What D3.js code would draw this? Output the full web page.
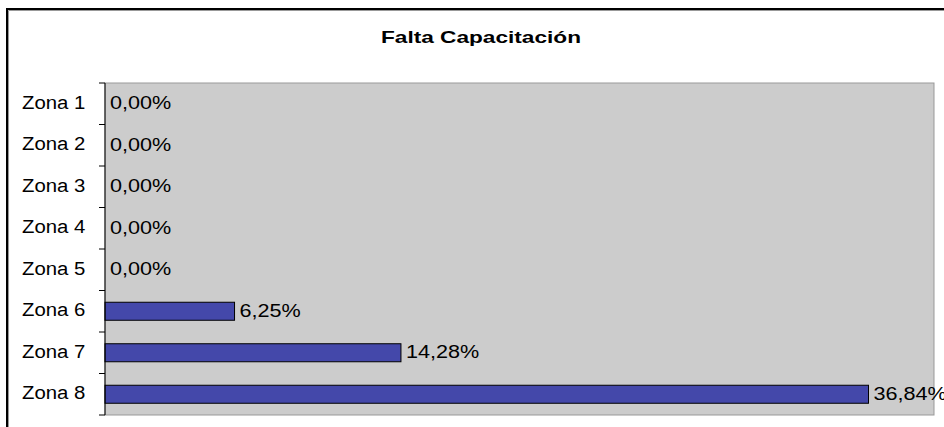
<!DOCTYPE html>
<html>
<head>
<meta charset="utf-8">
<script src="https://cdn.jsdelivr.net/npm/d3@7"></script>
<style>
  body { margin: 0; background: #fff; }
  text { font-family: 'Liberation Sans', Arial, sans-serif; fill: #000; }
</style>
</head>
<body>
<div id="chart"></div>
<script>
var title = 'Falta Capacitación'
var zonas = ['Zona 1', 'Zona 2', 'Zona 3', 'Zona 4', 'Zona 5', 'Zona 6', 'Zona 7', 'Zona 8']
var valores = [0, 0, 0, 0, 0, 6.25, 14.28, 36.84]
var xMax = 40

var width = 944
var height = 427
var plot = { left: 105, top: 83, right: 934, bottom: 415 }

var svg = d3.select('#chart')
  .append('svg')
  .attr('width', width)
  .attr('height', height)

// chart frame
svg.append('rect')
  .attr('x', 7).attr('y', 9)
  .attr('width', 960).attr('height', 440)
  .attr('fill', '#fff')
  .attr('stroke', '#000')
  .attr('stroke-width', 2)
svg.append('path')
  .attr('d', 'M8.5,460 V10.5 H960')
  .attr('fill', 'none')
  .attr('stroke', '#999')
  .attr('stroke-width', 1)

var x = d3.scaleLinear()
  .domain([0, xMax])
  .range([plot.left, plot.right])

var y = d3.scaleBand()
  .domain(zonas)
  .range([plot.top, plot.bottom])
  .paddingInner(0.566)
  .paddingOuter(0.283)

var yTicks = d3.scaleLinear()
  .domain([0, zonas.length])
  .range([plot.top, plot.bottom])

// plot area
svg.append('rect')
  .attr('x', plot.left)
  .attr('y', plot.top)
  .attr('width', plot.right - plot.left)
  .attr('height', plot.bottom - plot.top)
  .attr('fill', '#cccccc')
  .attr('stroke', '#999')
  .attr('stroke-width', 1)

// title
svg.append('text')
  .attr('x', 481)
  .attr('y', 43)
  .attr('text-anchor', 'middle')
  .attr('font-size', 17)
  .attr('font-weight', 'bold')
  .attr('textLength', 200)
  .attr('lengthAdjust', 'spacingAndGlyphs')
  .text(title)

// bars
svg.selectAll('.bar')
  .data(valores.filter(function (d) { return d > 0 }))
  .enter()
  .append('rect')
  .attr('class', 'bar')
  .attr('x', x(0))
  .attr('y', function (d) { return y(zonas[valores.indexOf(d)]) })
  .attr('width', function (d) { return x(d) - x(0) })
  .attr('height', y.bandwidth())
  .attr('fill', '#4448aa')
  .attr('stroke', '#000')
  .attr('stroke-width', 1)

// left axis line and ticks
svg.append('line')
  .attr('x1', plot.left).attr('x2', plot.left)
  .attr('y1', plot.top).attr('y2', plot.bottom)
  .attr('stroke', '#000')
svg.selectAll('.tick')
  .data(d3.range(zonas.length + 1))
  .enter()
  .append('line')
  .attr('x1', plot.left - 6).attr('x2', plot.left)
  .attr('y1', function (d) { return yTicks(d) })
  .attr('y2', function (d) { return yTicks(d) })
  .attr('stroke', '#000')

function stretch (sel, k) {
  sel.each(function () {
    var w = this.getComputedTextLength()
    d3.select(this)
      .attr('textLength', w * k)
      .attr('lengthAdjust', 'spacingAndGlyphs')
  })
}

// category labels
var cats = svg.selectAll('.cat')
  .data(zonas)
  .enter()
  .append('text')
  .attr('class', 'cat')
  .attr('x', 22)
  .attr('y', function (d) { return y(d) + y.bandwidth() / 2 + 5 })
  .attr('font-size', 18)
  .text(function (d) { return d })
stretch(cats, 1.13)

// value labels
var labels = svg.selectAll('.val')
  .data(valores)
  .enter()
  .append('text')
  .attr('class', 'val')
  .attr('x', function (d) { return x(d) + 5 })
  .attr('y', function (d, i) { return y(zonas[i]) + y.bandwidth() / 2 + 5.5 })
  .attr('font-size', 18)
  .text(function (d) { return d.toFixed(2).replace('.', ',') + '%' })
stretch(labels, 1.2)
</script>
</body>
</html>
